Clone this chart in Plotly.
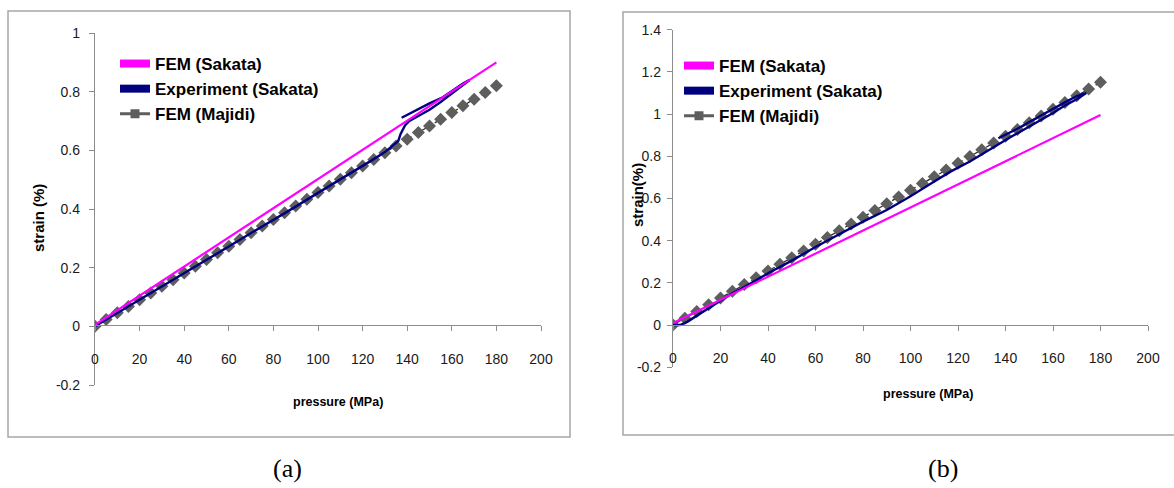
import plotly.graph_objects as go

W, H = 1174, 488

# ---------------- data ----------------
series_names = ["FEM (Sakata)", "Experiment (Sakata)", "FEM (Majidi)"]

# panel (a)
fem_sakata_a_p = [0, 180]
fem_sakata_a_s = [0.005, 0.90]

exp_a_p = [0, 10, 20, 30, 40, 50, 60, 70, 80, 90, 100, 110, 120, 125, 130, 133, 136, 137,
           139, 141, 145, 150, 155, 160, 165, 168,
           165, 160, 156, 150, 145, 140, 137.5]
exp_a_s = [0, 0.045, 0.09, 0.135, 0.18, 0.226, 0.272, 0.318, 0.362, 0.408, 0.455, 0.50, 0.547,
           0.570, 0.594, 0.612, 0.632, 0.655, 0.685, 0.70, 0.716, 0.738, 0.765, 0.795, 0.824, 0.84,
           0.828, 0.803, 0.781, 0.760, 0.741, 0.720, 0.711]

majidi_p = [0, 5, 10, 15, 20, 25, 30, 35, 40, 45, 50, 55, 60, 65, 70, 75, 80, 85, 90, 95,
            100, 105, 110, 115, 120, 125, 130, 135, 140, 145, 150, 155, 160, 165, 170, 175, 180]
majidi_a_s = [0, 0.023, 0.046, 0.068, 0.091, 0.114, 0.137, 0.159, 0.182, 0.205, 0.228, 0.251,
              0.273, 0.296, 0.319, 0.342, 0.364, 0.387, 0.41, 0.433, 0.456, 0.478, 0.501, 0.524,
              0.547, 0.569, 0.592, 0.615, 0.638, 0.661, 0.683, 0.706, 0.729, 0.752, 0.774, 0.797, 0.82]

# panel (b)
fem_sakata_b_p = [0, 180]
fem_sakata_b_s = [0.01, 0.995]

exp_b_p = [0, 3, 6, 10, 15, 20, 25, 30, 40, 50, 60, 70, 80, 90, 100, 110, 117, 125, 130, 135,
           138, 142, 146, 150, 155, 160, 165, 170, 174,
           170, 165, 160, 155, 150, 145, 140, 137]
exp_b_s = [0, 0.0, 0.015, 0.045, 0.08, 0.115, 0.15, 0.18, 0.245, 0.305, 0.37, 0.43, 0.49, 0.545,
           0.61, 0.68, 0.728, 0.775, 0.81, 0.845, 0.865, 0.89, 0.915, 0.94, 0.972, 1.005, 1.04,
           1.07, 1.10,
           1.085, 1.055, 1.025, 0.995, 0.962, 0.93, 0.90, 0.885]

majidi_b_s = [0, 0.032, 0.064, 0.096, 0.128, 0.16, 0.192, 0.224, 0.256, 0.288, 0.319, 0.351,
              0.383, 0.415, 0.447, 0.479, 0.511, 0.543, 0.575, 0.607, 0.639, 0.671, 0.703, 0.735,
              0.767, 0.799, 0.831, 0.863, 0.895, 0.927, 0.958, 0.99, 1.022, 1.054, 1.086, 1.118, 1.15]

x_ticks = [0, 20, 40, 60, 80, 100, 120, 140, 160, 180, 200]
y_ticks_a = [-0.2, 0, 0.2, 0.4, 0.6, 0.8, 1]
y_ticks_a_text = ["-0.2", "0", "0.2", "0.4", "0.6", "0.8", "1"]
y_ticks_b = [-0.2, 0, 0.2, 0.4, 0.6, 0.8, 1, 1.2, 1.4]
y_ticks_b_text = ["-0.2", "0", "0.2", "0.4", "0.6", "0.8", "1", "1.2", "1.4"]

# ---------------- styles ----------------
MAGENTA = "#FF00FF"
NAVY = "#000080"
GRAY_M = "#5E5E5E"
AXIS = "#8C8C8C"
SANS = "Liberation Sans, Arial, sans-serif"
TICKFONT = dict(family=SANS, size=14, color="#1a1a1a")


def px_x(px):
    return px / W


def px_y(py):
    return 1 - py / H


fig = go.Figure()


def add_panel(xa, ya, legend, p_fem, s_fem, p_exp, s_exp, s_maj):
    fig.add_trace(go.Scatter(x=majidi_p, y=s_maj, mode="lines+markers", xaxis=xa, yaxis=ya,
                             line=dict(color="#2a2a2a", width=1.3, dash="dash"),
                             marker=dict(symbol="diamond", size=10, color=GRAY_M),
                             showlegend=False, hoverinfo="skip"))
    fig.add_trace(go.Scatter(x=p_exp, y=s_exp, mode="lines", xaxis=xa, yaxis=ya,
                             line=dict(color=NAVY, width=2.4),
                             showlegend=False, hoverinfo="skip"))
    fig.add_trace(go.Scatter(x=p_fem, y=s_fem, mode="lines", xaxis=xa, yaxis=ya,
                             line=dict(color=MAGENTA, width=2.2),
                             showlegend=False, hoverinfo="skip"))
    # legend entries
    fig.add_trace(go.Scatter(x=[None], y=[None], mode="lines", xaxis=xa, yaxis=ya,
                             name=series_names[0], legend=legend,
                             line=dict(color=MAGENTA, width=8)))
    fig.add_trace(go.Scatter(x=[None], y=[None], mode="lines", xaxis=xa, yaxis=ya,
                             name=series_names[1], legend=legend,
                             line=dict(color=NAVY, width=8)))
    fig.add_trace(go.Scatter(x=[None], y=[None], mode="lines+markers", xaxis=xa, yaxis=ya,
                             name=series_names[2], legend=legend,
                             line=dict(color=GRAY_M, width=3),
                             marker=dict(symbol="square", size=9, color=GRAY_M)))


add_panel("x", "y", "legend", fem_sakata_a_p, fem_sakata_a_s, exp_a_p, exp_a_s, majidi_a_s)
add_panel("x2", "y2", "legend2", fem_sakata_b_p, fem_sakata_b_s, exp_b_p, exp_b_s, majidi_b_s)

common_x = dict(range=[0, 200], tickvals=x_ticks, showgrid=False, zeroline=False,
                showline=True, linecolor=AXIS, linewidth=1.3, ticks="outside", ticklen=5,
                tickcolor=AXIS, tickfont=TICKFONT, anchor="free", fixedrange=True,
                automargin=False)
common_y = dict(showgrid=False, zeroline=False, showline=True, linecolor=AXIS, linewidth=1.3,
                ticks="outside", ticklen=5, tickcolor=AXIS, tickfont=TICKFONT, fixedrange=True,
                automargin=False)

legend_font = dict(family=SANS, size=17, color="#000000", weight="bold")

fig.update_layout(
    template="none",
    width=W, height=H,
    margin=dict(l=0, r=0, t=0, b=0, pad=0, autoexpand=False),
    paper_bgcolor="white", plot_bgcolor="white",
    xaxis=dict(common_x, domain=[px_x(95), px_x(541)], position=px_y(325),
               ticklabelstandoff=16),
    yaxis=dict(common_y, domain=[px_y(385), px_y(33)], range=[-0.2, 1], tickvals=y_ticks_a,
               ticktext=y_ticks_a_text, anchor="x", ticklabelstandoff=6),
    xaxis2=dict(common_x, domain=[px_x(673), px_x(1148)], position=px_y(325),
                ticklabelstandoff=15),
    yaxis2=dict(common_y, domain=[px_y(367.2), px_y(29.6)], range=[-0.2, 1.4],
                tickvals=y_ticks_b, ticktext=y_ticks_b_text, anchor="x2", ticklabelstandoff=3),
    legend=dict(x=px_x(115), y=px_y(46), xanchor="left", yanchor="top",
                bgcolor="rgba(0,0,0,0)", itemwidth=30, tracegroupgap=0, font=legend_font),
    legend2=dict(x=px_x(679), y=px_y(48), xanchor="left", yanchor="top",
                 bgcolor="rgba(0,0,0,0)", itemwidth=30, tracegroupgap=0, font=legend_font),
    shapes=[
        dict(type="rect", xref="paper", yref="paper", x0=px_x(8), x1=px_x(570),
             y0=px_y(437), y1=px_y(11), line=dict(color="#A6A6A6", width=1.5)),
        dict(type="rect", xref="paper", yref="paper", x0=px_x(623), x1=px_x(1180),
             y0=px_y(435), y1=px_y(12), line=dict(color="#A6A6A6", width=1.5)),
    ],
    annotations=[
        dict(text="<b>strain (%)</b>", x=px_x(38), y=px_y(218), xref="paper", yref="paper",
             textangle=-90, showarrow=False, xanchor="center", yanchor="middle",
             font=dict(family=SANS, size=15, color="#000")),
        dict(text="<b>pressure (MPa)</b>", x=px_x(338), y=px_y(402), xref="paper", yref="paper",
             showarrow=False, xanchor="center", yanchor="middle",
             font=dict(family=SANS, size=12.5, color="#000")),
        dict(text="<b>strain(%)</b>", x=px_x(637), y=px_y(195), xref="paper", yref="paper",
             textangle=-90, showarrow=False, xanchor="center", yanchor="middle",
             font=dict(family=SANS, size=15, color="#000")),
        dict(text="<b>pressure (MPa)</b>", x=px_x(928), y=px_y(394), xref="paper", yref="paper",
             showarrow=False, xanchor="center", yanchor="middle",
             font=dict(family=SANS, size=12.5, color="#000")),
        dict(text="(a)", x=px_x(287), y=px_y(468), xref="paper", yref="paper", showarrow=False,
             xanchor="center", yanchor="middle",
             font=dict(family="Liberation Serif, Times New Roman, serif", size=26, color="#000")),
        dict(text="(b)", x=px_x(943), y=px_y(468), xref="paper", yref="paper", showarrow=False,
             xanchor="center", yanchor="middle",
             font=dict(family="Liberation Serif, Times New Roman, serif", size=26, color="#000")),
    ],
)

fig.write_html("out.html")
